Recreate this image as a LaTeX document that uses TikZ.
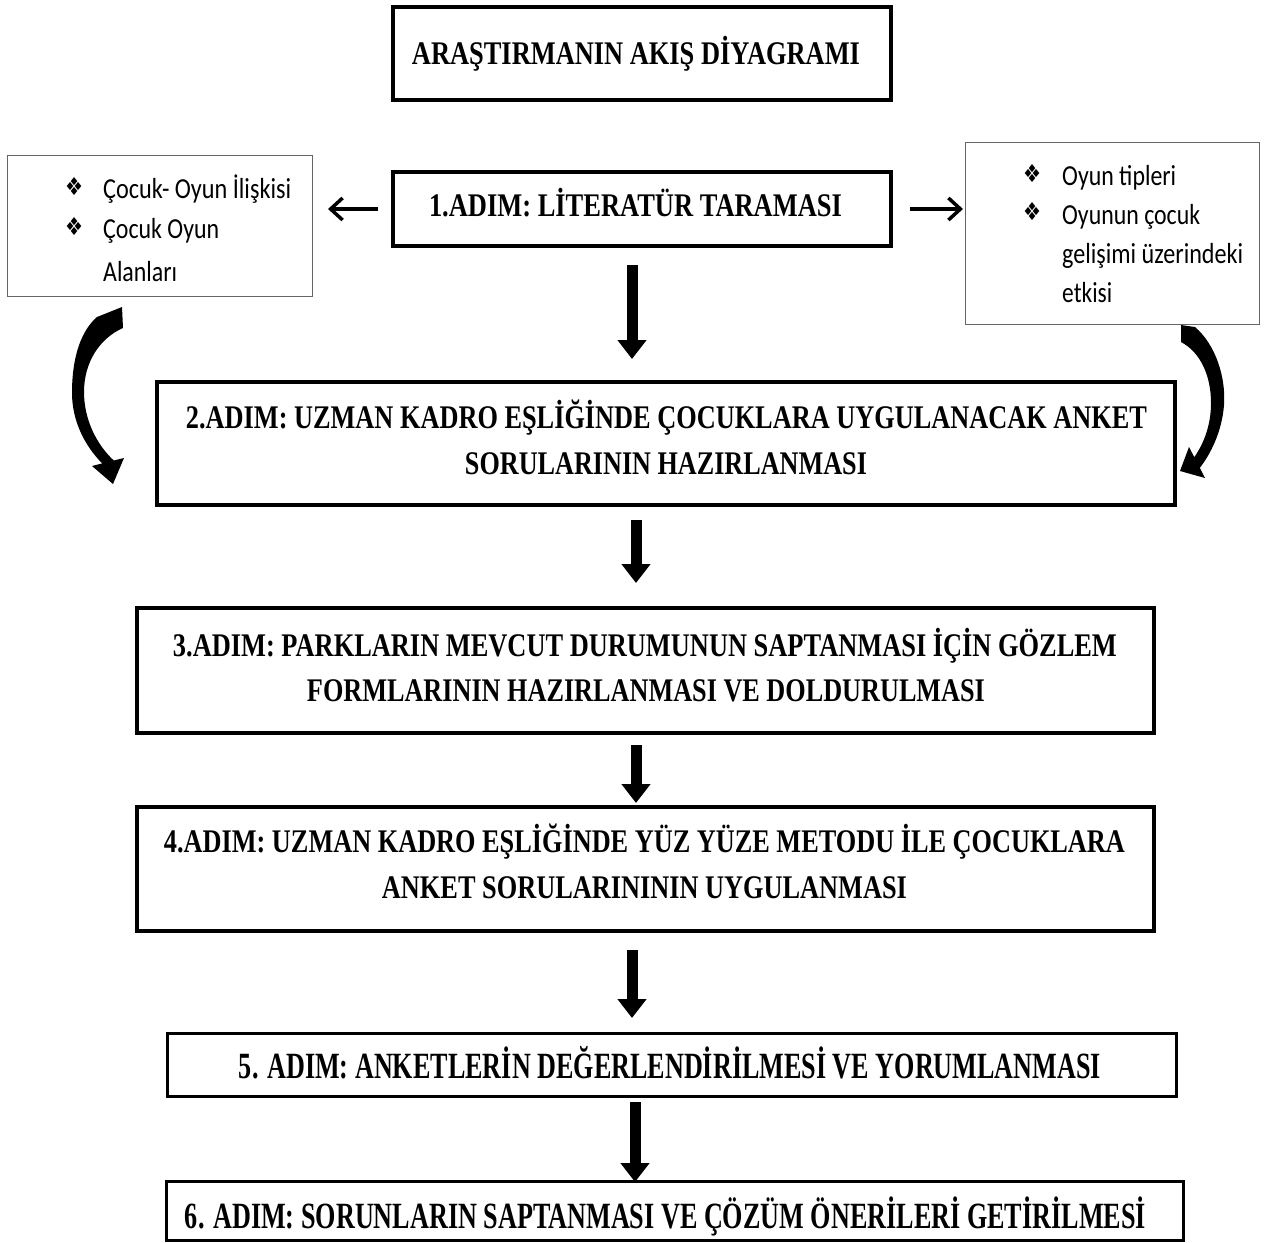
\documentclass[tikz,border=0pt]{standalone}
\usepackage{fontspec}
\usepackage{graphicx}
\setmainfont{Liberation Serif}
\newfontfamily\calibfont{Carlito}
\newfontfamily\dejavufont{DejaVu Sans}
\usetikzlibrary{arrows.meta,calc}
\newcommand{\fitline}[2]{\resizebox{#1}{\height}{#2}}
\begin{document}
\begin{tikzpicture}[x=1pt,y=-1pt,
  mainbox/.style={draw=black, line width=4pt, inner sep=0pt, fill=white},
  thinmain/.style={draw=black, line width=3pt, inner sep=0pt, fill=white},
  sidebox/.style={draw=black!60, line width=1.3pt, inner sep=0pt, fill=white},
  steptxt/.style={inner sep=0pt, anchor=base, font=\bfseries\fontsize{33}{38}\selectfont},
  bigtxt/.style={inner sep=0pt, anchor=base, font=\bfseries\fontsize{37}{42}\selectfont},
  sidetxt/.style={inner sep=0pt, anchor=base west, font=\calibfont\fontsize{29}{35}\selectfont},
  bul/.style={inner sep=0pt, font=\dejavufont},
  bigarr/.style={line width=11pt, -{Triangle[width=28pt,length=19pt]}},
  smallarr/.style={line width=3.5pt, -{Straight Barb[length=12pt,width=22pt]}},
  curvarr/.style={fill=black}
]
\useasboundingbox (0,0) rectangle (1270,1243);

% boxes
\node[mainbox, minimum width=498pt, minimum height=93pt] (title) at (642,53.5) {};
\node[mainbox, minimum width=498pt, minimum height=74pt] (s1) at (642,209) {};
\node[sidebox, minimum width=304.7pt, minimum height=140.7pt] (lb) at (160,226) {};
\node[sidebox, minimum width=293.7pt, minimum height=181.7pt] (rb) at (1112.5,233.5) {};
\node[mainbox, minimum width=1018pt, minimum height=123pt] (s2) at (666,443.5) {};
\node[mainbox, minimum width=1017pt, minimum height=125pt] (s3) at (645.5,670.5) {};
\node[mainbox, minimum width=1017pt, minimum height=124pt] (s4) at (645.5,869) {};
\node[thinmain, minimum width=1009pt, minimum height=63pt] (s5) at (672,1065) {};
\node[thinmain, minimum width=1017pt, minimum height=59pt] (s6) at (675,1211) {};

% texts
\node[steptxt] (ttitle) at (636,64) {\fitline{448pt}{ARAŞTIRMANIN AKIŞ DİYAGRAMI}};
\node[steptxt] (t1) at (635.5,216) {\fitline{413pt}{1.ADIM: LİTERATÜR TARAMASI}};
\node[steptxt] (t2a) at (666.5,428) {\fitline{961pt}{2.ADIM: UZMAN KADRO EŞLİĞİNDE ÇOCUKLARA UYGULANACAK ANKET}};
\node[steptxt] (t2b) at (666,474) {\fitline{402pt}{SORULARININ HAZIRLANMASI}};
\node[steptxt] (t3a) at (645,656) {\fitline{944pt}{3.ADIM: PARKLARIN MEVCUT DURUMUNUN SAPTANMASI İÇİN GÖZLEM}};
\node[steptxt] (t3b) at (646,701) {\fitline{678pt}{FORMLARININ HAZIRLANMASI VE DOLDURULMASI}};
\node[steptxt] (t4a) at (644.5,852) {\fitline{961pt}{4.ADIM: UZMAN KADRO EŞLİĞİNDE YÜZ YÜZE METODU İLE ÇOCUKLARA}};
\node[steptxt] (t4b) at (644.5,898) {\fitline{525pt}{ANKET SORULARINININ UYGULANMASI}};
\node[bigtxt] (t5) at (670,1078) {\fitline{862pt}{5. ADIM: ANKETLERİN DEĞERLENDİRİLMESİ VE YORUMLANMASI}};
\node[bigtxt] (t6) at (665.5,1228) {\fitline{961pt}{6. ADIM: SORUNLARIN SAPTANMASI VE ÇÖZÜM ÖNERİLERİ GETİRİLMESİ}};

% side texts
\node[bul] (lb1) at (74,187) {\resizebox{18pt}{18pt}{❖}};
\node[bul] (lb2) at (74,227) {\resizebox{18pt}{18pt}{❖}};
\node[sidetxt] (l1) at (103,198) {\fitline{188pt}{Çocuk- Oyun İlişkisi}};
\node[sidetxt] (l2) at (103,238) {\fitline{116pt}{Çocuk Oyun}};
\node[sidetxt] (l3) at (103,281) {\fitline{74pt}{Alanları}};
\node[bul] (rb1) at (1032,174) {\resizebox{18pt}{18pt}{❖}};
\node[bul] (rb2) at (1032,212) {\resizebox{18pt}{18pt}{❖}};
\node[sidetxt] (r1) at (1062,185) {\fitline{114pt}{Oyun tipleri}};
\node[sidetxt] (r2) at (1062,224) {\fitline{138pt}{Oyunun çocuk}};
\node[sidetxt] (r3) at (1062,263) {\fitline{181pt}{gelişimi üzerindeki}};
\node[sidetxt] (r4) at (1062,302) {\fitline{50pt}{etkisi}};

% small arrows
\draw[smallarr] ($(s1.west)+(-13,0)$) -- ($(lb.east |- s1.west)+(15,0)$);
\draw[smallarr] ($(s1.east)+(17,0)$) -- ($(rb.west |- s1.east)+(-2,0)$);

% big arrows
\draw[bigarr] ($(s1.south)+(-10,17)$) -- ($(s1.south |- s2.north)+(-10,-21)$);
\draw[bigarr] ($(s2.south)+(-30,13)$) -- ($(s2.south |- s3.north)+(-30,-23)$);
\draw[bigarr] ($(s3.south)+(-9.5,10)$) -- ($(s3.south |- s4.north)+(-9.5,-2)$);
\draw[bigarr] ($(s4.south)+(-13.5,17)$) -- ($(s4.south |- s5.north)+(-13.5,-14)$);
\draw[bigarr] ($(s5.south)+(-37,4)$) -- ($(s5.south |- s6.north)+(-37,2)$);

% curved arrows
\fill[curvarr] (97,317) -- (122,307) -- (123,328)
  .. controls (100,338) and (84,362) .. (84,392)
  .. controls (84,420) and (97,445) .. (113.8,460.5)
  -- (124,458) -- (113,484) -- (92,466) -- (102.2,463.4)
  .. controls (84,445) and (72,420) .. (72,393)
  .. controls (72,355) and (82,330) .. (97,317) -- cycle;
\fill[curvarr] (1181,325) -- (1195,327)
  .. controls (1216,345) and (1226,378) .. (1224,405)
  .. controls (1222,432) and (1210,455) .. (1199.8,467.8)
  -- (1205,478) -- (1180,471) -- (1189,447) -- (1194.3,457.2)
  .. controls (1204,443) and (1211,425) .. (1211,403)
  .. controls (1211,375) and (1200,352) .. (1181,342) -- cycle;
\end{tikzpicture}
\end{document}
